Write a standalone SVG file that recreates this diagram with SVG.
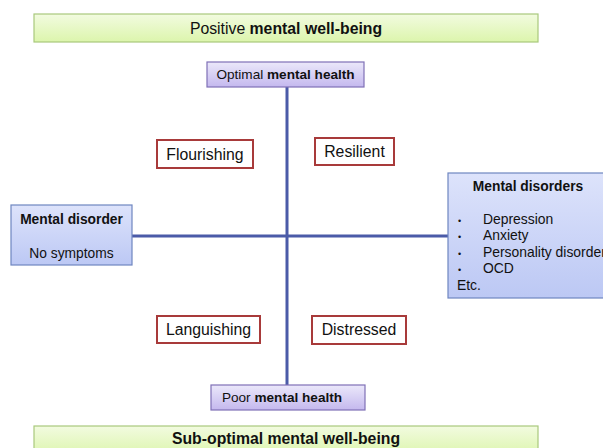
<svg xmlns="http://www.w3.org/2000/svg" width="603" height="448" viewBox="0 0 603 448">
<defs>
<linearGradient id="gGreen" x1="0" y1="0" x2="0" y2="1"><stop offset="0" stop-color="#f2fbe0"/><stop offset="1" stop-color="#dcf5ac"/></linearGradient>
<linearGradient id="gPurple" x1="0" y1="0" x2="0" y2="1"><stop offset="0" stop-color="#ebe8fa"/><stop offset="1" stop-color="#c4b8ee"/></linearGradient>
<linearGradient id="gBlue" x1="0" y1="0" x2="0" y2="1"><stop offset="0" stop-color="#dde3fb"/><stop offset="1" stop-color="#bcc8f4"/></linearGradient>
</defs>
<style>
text{font-family:"Liberation Sans",Arial,sans-serif;fill:#111;}
.green{fill:url(#gGreen);stroke:#a9c97c;stroke-width:1.2;}
.purple{fill:url(#gPurple);stroke:#7f70b6;stroke-width:1.2;}
.blue{fill:url(#gBlue);stroke:#6e86c0;stroke-width:1.2;}
.red{fill:#fff;stroke:#a83a3a;stroke-width:2;}
.axis{stroke:#4b5ba8;stroke-width:3;fill:none;}
.b{font-weight:bold;}
</style>
<g id="connectors">
<line class="axis" x1="287" y1="87" x2="287" y2="385"/>
<line class="axis" x1="132" y1="236" x2="448" y2="236"/>
</g>
<g id="top-bar"><rect class="green" x="34" y="14" width="504" height="28"/><text x="286" y="34" font-size="15.8" text-anchor="middle">Positive <tspan class="b">mental well-being</tspan></text></g>
<g id="optimal"><rect class="purple" x="207" y="62" width="157" height="25"/><text x="285.5" y="79" font-size="13.6" text-anchor="middle">Optimal <tspan class="b">mental health</tspan></text></g>
<g id="left"><rect class="blue" x="11" y="205" width="121" height="60"/><text x="71.5" y="224" font-size="13.8" text-anchor="middle" class="b">Mental disorder</text><text x="71.5" y="258" font-size="13.8" text-anchor="middle">No symptoms</text></g>
<g id="right"><rect class="blue" x="448" y="173" width="160" height="125"/>
<text x="528" y="191" font-size="13.8" text-anchor="middle" class="b">Mental disorders</text>
<text font-size="9"><tspan x="458" y="224">•</tspan><tspan x="458" y="240">•</tspan><tspan x="458" y="257">•</tspan><tspan x="458" y="273">•</tspan></text>
<text font-size="13.9"><tspan x="483" y="224">Depression</tspan><tspan x="483" y="240">Anxiety</tspan><tspan x="483" y="257">Personality disorder</tspan><tspan x="483" y="273">OCD</tspan><tspan x="457" y="290">Etc.</tspan></text>
</g>
<g id="flourishing"><rect class="red" x="157" y="140" width="96" height="28"/><text x="205" y="160" font-size="15.8" text-anchor="middle">Flourishing</text></g>
<g id="resilient"><rect class="red" x="315" y="138" width="79" height="27"/><text x="354.5" y="157" font-size="15.8" text-anchor="middle">Resilient</text></g>
<g id="languishing"><rect class="red" x="157" y="316" width="103" height="27"/><text x="208.5" y="335" font-size="15.8" text-anchor="middle">Languishing</text></g>
<g id="distressed"><rect class="red" x="312" y="316" width="94" height="28"/><text x="359" y="335" font-size="15.8" text-anchor="middle">Distressed</text></g>
<g id="poor"><rect class="purple" x="211" y="385" width="154" height="25"/><text x="282" y="402" font-size="13.6" text-anchor="middle">Poor <tspan class="b">mental health</tspan></text></g>
<g id="bottom-bar"><rect class="green" x="34" y="426" width="504" height="30"/><text x="286" y="444" font-size="15.8" text-anchor="middle" class="b">Sub-optimal mental well-being</text></g>
</svg>
